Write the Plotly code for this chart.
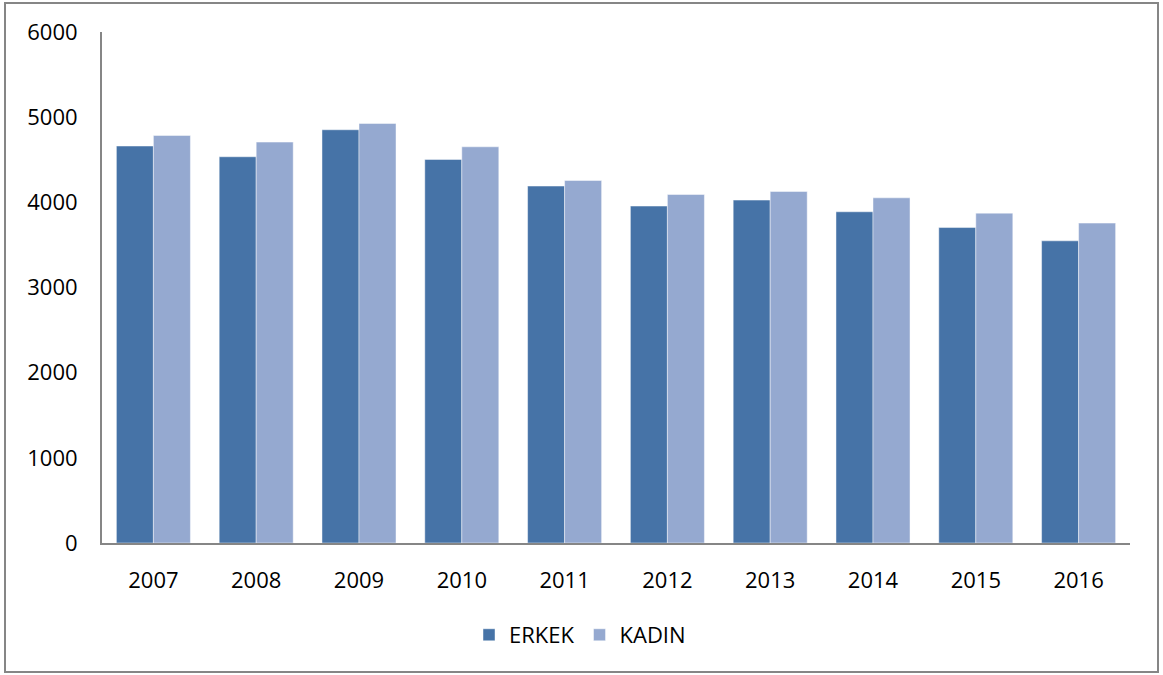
import plotly.graph_objects as go

years = ["2007", "2008", "2009", "2010", "2011", "2012", "2013", "2014", "2015", "2016"]
erkek = [4661, 4535, 4852, 4503, 4191, 3956, 4026, 3889, 3704, 3548]
kadin = [4785, 4707, 4926, 4652, 4256, 4092, 4127, 4053, 3873, 3756]
y_ticks = [0, 1000, 2000, 3000, 4000, 5000, 6000]

W, H = 1163, 675
ml, mr, mt, mb = 102, 33, 32, 132
pw, ph = W - ml - mr, H - mt - mb

font = dict(family="Open Sans, Lato, sans-serif", size=22, color="#000000")

fig = go.Figure()
fig.add_trace(go.Bar(name="ERKEK", x=years, y=erkek, marker=dict(color="#4673A7", line=dict(color="rgba(255,255,255,0.45)", width=1))))
fig.add_trace(go.Bar(name="KADIN", x=years, y=kadin, marker=dict(color="#95A9D0", line=dict(color="rgba(255,255,255,0.45)", width=1))))

fig.update_layout(
    width=W, height=H,
    margin=dict(l=ml, r=mr, t=mt, b=mb),
    paper_bgcolor="white", plot_bgcolor="white",
    barmode="group", bargap=0.28, bargroupgap=0,
    font=font,
    showlegend=True,
    legend=dict(orientation="h", x=0.465, xanchor="center", y=-0.18, yanchor="middle",
                font=dict(family="Open Sans, Lato, sans-serif", size=22, color="#000"),
                itemwidth=30, traceorder="normal"),
    xaxis=dict(showline=True, linecolor="#868686", linewidth=2, ticks="outside", ticklen=17,
               tickcolor="rgba(0,0,0,0)", showgrid=False, tickfont=font),
    yaxis=dict(range=[0, 6000], tickvals=y_ticks, showline=True, linecolor="#868686", linewidth=2,
               ticks="outside", ticklen=18, tickcolor="rgba(0,0,0,0)", showgrid=False,
               zeroline=False, tickfont=font),
)

fig.add_shape(type="rect", xref="paper", yref="paper",
              x0=(5 - ml) / pw, x1=(1158 - ml) / pw,
              y0=(mt + ph - 672) / ph, y1=(mt + ph - 3) / ph,
              line=dict(color="#868686", width=2), fillcolor="rgba(0,0,0,0)", layer="below")

fig.write_html("out.html", config={"displayModeBar": False},
               post_script="document.body.style.margin='0';")
